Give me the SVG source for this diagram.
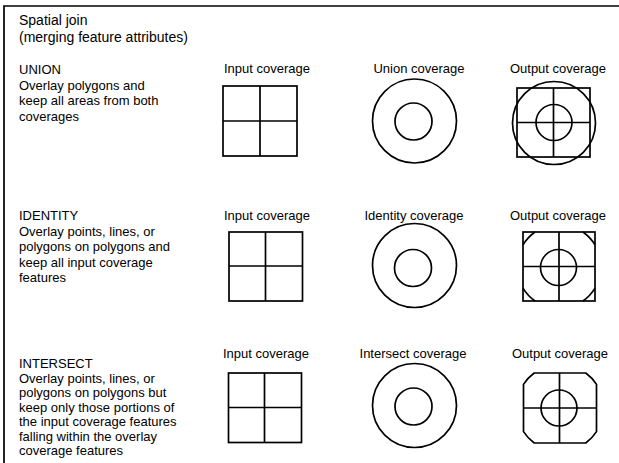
<svg xmlns="http://www.w3.org/2000/svg" width="619" height="463" viewBox="0 0 619 463">
<style>
text{font-family:"Liberation Sans",Arial,sans-serif;font-size:13px;fill:#000}
.t{font-size:14px}
.c{text-anchor:middle}
.s{fill:none;stroke:#000;stroke-width:1.7}
</style>
<rect width="619" height="463" fill="#fff"/>
<g id="frame" class="s"><path d="M4,463 V6 H619"/></g>

<g id="title">
<text class="t" x="19" y="25">Spatial join</text>
<text class="t" x="19" y="42">(merging feature attributes)</text>
</g>

<g id="union-desc">
<text x="19" y="74">UNION</text>
<text x="19" y="89.5">Overlay polygons and</text>
<text x="19" y="105">keep all areas from both</text>
<text x="19" y="120.5">coverages</text>
</g>
<g id="union-input">
<text class="c" x="267" y="73">Input coverage</text>
<g class="s"><rect x="223" y="86" width="74" height="70"/><path d="M260,86 V156 M223,121 H297"/></g>
</g>
<g id="union-overlay">
<text class="c" x="419" y="73">Union coverage</text>
<g class="s"><circle cx="414.5" cy="121" r="42"/><circle cx="413.5" cy="121.5" r="18.5"/></g>
</g>
<g id="union-output">
<text class="c" x="558" y="73">Output coverage</text>
<g class="s"><rect x="517" y="88" width="73" height="69"/><path d="M553.5,88 V157 M517,122.5 H590"/><circle cx="554" cy="123" r="41.5"/><circle cx="554" cy="122.5" r="18"/></g>
</g>

<g id="identity-desc">
<text x="19" y="220">IDENTITY</text>
<text x="19" y="235.5">Overlay points, lines, or</text>
<text x="19" y="251">polygons on polygons and</text>
<text x="19" y="266.5">keep all input coverage</text>
<text x="19" y="282">features</text>
</g>
<g id="identity-input">
<text class="c" x="267" y="220">Input coverage</text>
<g class="s"><rect x="229" y="232" width="73.5" height="69"/><path d="M265.5,232 V301 M229,266 H302.5"/></g>
</g>
<g id="identity-overlay">
<text class="c" x="414" y="220">Identity coverage</text>
<g class="s"><circle cx="414.5" cy="265.5" r="42"/><circle cx="413" cy="268" r="18.5"/></g>
</g>
<g id="identity-output">
<text class="c" x="558" y="220">Output coverage</text>
<g class="s"><rect x="523" y="232" width="72" height="69"/><path d="M559,232 V301 M523,266.5 H595"/><circle cx="558.5" cy="267.5" r="18"/>
<path d="M523,244.87 A42,42 0 0 1 535.05,232 M582.95,232 A42,42 0 0 1 595,244.87 M595,288.13 A42,42 0 0 1 582.95,301 M535.05,301 A42,42 0 0 1 523,288.13"/></g>
</g>

<g id="intersect-desc">
<text x="19" y="368">INTERSECT</text>
<text x="19" y="382.5">Overlay points, lines, or</text>
<text x="19" y="397">polygons on polygons but</text>
<text x="19" y="411.5">keep only those portions of</text>
<text x="19" y="426">the input coverage features</text>
<text x="19" y="440.5">falling within the overlay</text>
<text x="19" y="455">coverage features</text>
</g>
<g id="intersect-input">
<text class="c" x="266" y="358">Input coverage</text>
<g class="s"><rect x="228.5" y="373" width="73" height="69.5"/><path d="M264.5,373 V442.5 M228.5,407.5 H301.5"/></g>
</g>
<g id="intersect-overlay">
<text class="c" x="413" y="358">Intersect coverage</text>
<g class="s"><circle cx="414.5" cy="405.5" r="42"/><circle cx="413.5" cy="406.5" r="18.5"/></g>
</g>
<g id="intersect-output">
<text class="c" x="560" y="358">Output coverage</text>
<g class="s"><path d="M534.17,373 H585.83 A43.5,43.5 0 0 1 596.5,384.34 V431.66 A43.5,43.5 0 0 1 585.83,443 H534.17 A43.5,43.5 0 0 1 523.5,431.66 V384.34 A43.5,43.5 0 0 1 534.17,373 Z"/><path d="M559.5,373 V443 M523.5,408 H596.5"/><circle cx="559" cy="408" r="18"/></g>
</g>
</svg>
